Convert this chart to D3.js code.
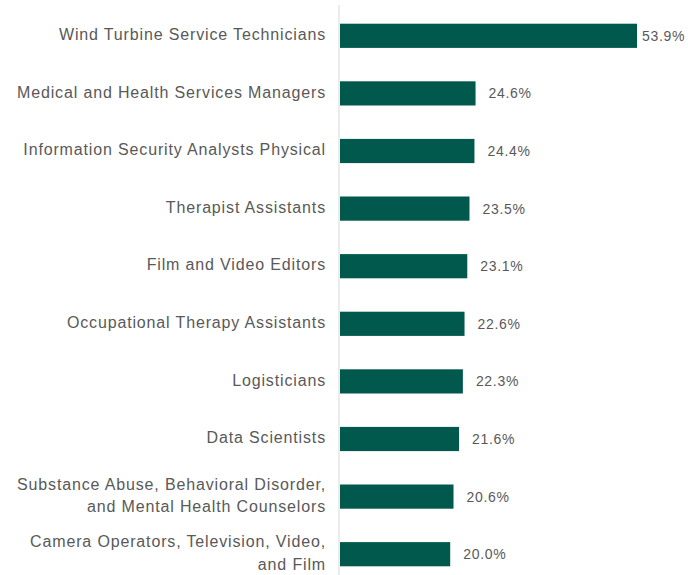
<!DOCTYPE html>
<html>
<head>
<meta charset="utf-8">
<script src="https://cdn.jsdelivr.net/npm/d3@7"></script>
<style>
  body { margin: 0; background: #fff; }
  text { font-family: "Liberation Sans", Arial, sans-serif; fill: #595959; }
</style>
</head>
<body>
<div id="chart"></div>
<script>
// occupations, each label may wrap onto two lines
const occupations = [
  ["Wind Turbine Service Technicians"],
  ["Medical and Health Services Managers"],
  ["Information Security Analysts Physical"],
  ["Therapist Assistants"],
  ["Film and Video Editors"],
  ["Occupational Therapy Assistants"],
  ["Logisticians"],
  ["Data Scientists"],
  ["Substance Abuse, Behavioral Disorder,", "and Mental Health Counselors"],
  ["Camera Operators, Television, Video,", "and Film"]
];
const growth = [53.9, 24.6, 24.4, 23.5, 23.1, 22.6, 22.3, 21.6, 20.6, 20.0];

const width = 688, height = 575;
const left = 340;

const svg = d3.select("#chart").append("svg")
  .attr("width", width)
  .attr("height", height);

const idx = d3.range(growth.length);

const x = d3.scaleLinear()
  .domain([0, 53.9])
  .range([left, 637]);

const y = d3.scaleBand()
  .domain(idx)
  .range([7, 583])
  .paddingInner(0.58)
  .paddingOuter(0.29);

// light vertical baseline
svg.append("line")
  .attr("x1", left - 1).attr("x2", left - 1)
  .attr("y1", 5).attr("y2", height)
  .attr("stroke", "#d9d9d9")
  .attr("stroke-width", 1);

svg.append("g").selectAll("rect")
  .data(idx)
  .join("rect")
  .attr("x", x(0))
  .attr("y", i => y(i))
  .attr("width", i => x(growth[i]) - x(0))
  .attr("height", y.bandwidth())
  .attr("fill", "#00594c");

// value labels
svg.append("g").selectAll("text")
  .data(idx)
  .join("text")
  .attr("x", i => Math.min(x(growth[i]) + 13, 642))
  .attr("y", i => y(i) + y.bandwidth() / 2)
  .attr("dy", "0.35em")
  .attr("font-size", 14)
  .attr("letter-spacing", 0.7)
  .text(i => growth[i].toFixed(1) + "%");

// category labels
const lab = svg.append("g").selectAll("text")
  .data(idx)
  .join("text")
  .attr("x", 326)
  .attr("y", i => y(i) + y.bandwidth() / 2 - 1.5)
  .attr("text-anchor", "end")
  .attr("font-size", 16)
  .attr("letter-spacing", 0.85);

lab.selectAll("tspan")
  .data(i => occupations[i].map((t, k, a) => ({t, k, n: a.length})))
  .join("tspan")
  .attr("x", 326)
  .attr("dy", d => d.k === 0 ? (0.35 - (d.n - 1) * 0.7) + "em" : "1.4em")
  .text(d => d.t);
</script>
</body>
</html>
